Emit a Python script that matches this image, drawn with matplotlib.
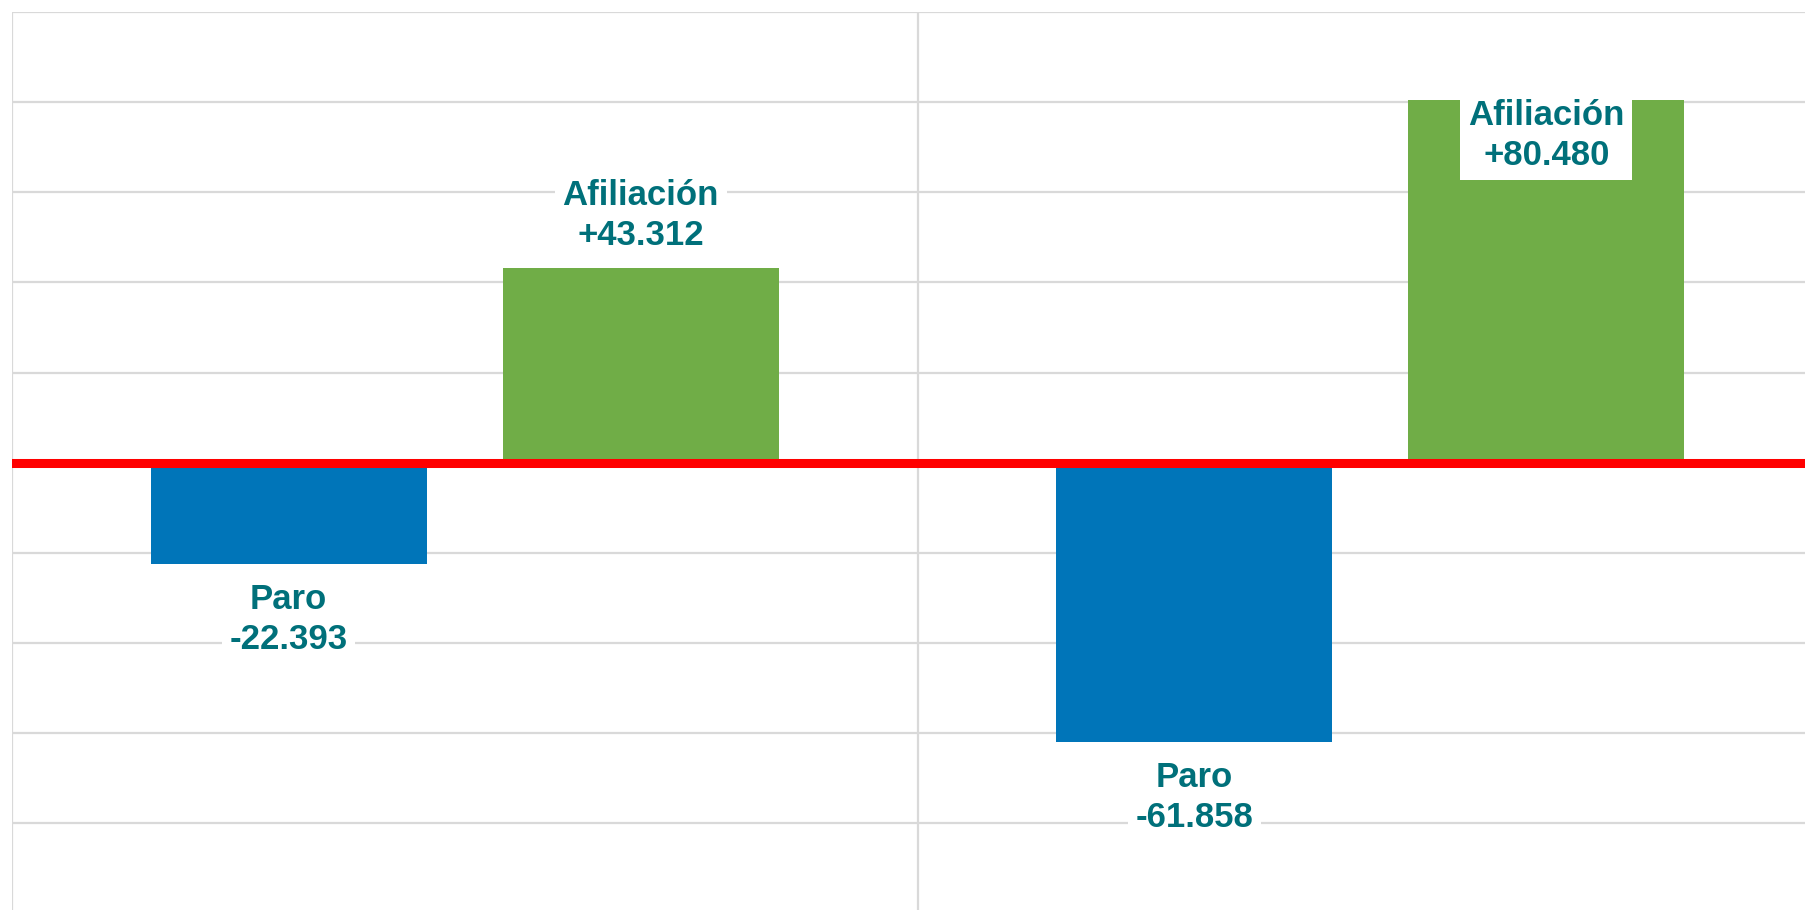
import matplotlib
matplotlib.use("Agg")
from matplotlib import pyplot as plt
import numpy as np

# two periods, two series (paro / afiliacion)
periodos = ["Periodo 1", "Periodo 2"]
series = ["Paro", "Afiliación"]
paro = [-22393, -61858]
afiliacion = [43312, 80480]

colores = {"Paro": "#0075b9", "Afiliación": "#70ad47"}
texto_color = "#00707a"

plt.rcParams["font.family"] = ["Liberation Sans", "DejaVu Sans"]

fig = plt.figure(figsize=(18.05, 9.10), dpi=100)
W, H = 1805.0, 910.0
# axes slightly larger than the figure: chart is cropped at bottom/right
ax = fig.add_axes([12 / W, 1 - 913.5 / H, 1811 / W, 901.5 / H])

x = np.arange(len(periodos))
ancho = 0.305
desp = 0.1944

def fmt(v):
    return "{:+,}".format(v).replace(",", ".")

ymax = 100000
estilo = dict(ha="center", fontsize=25, fontweight="bold", color=texto_color,
              linespacing=1.28, textcoords="offset points", zorder=4)
for nombre, valores, d in [("Paro", paro, -desp), ("Afiliación", afiliacion, desp)]:
    barras = ax.bar(x + d, valores, width=ancho, color=colores[nombre], zorder=2)
    for b, v in zip(barras, valores):
        cx = b.get_x() + b.get_width() / 2
        txt = nombre + "\n" + fmt(v)
        caja = dict(boxstyle="square,pad=0.22", fc="white", ec="none")
        if v > 0 and v > ymax * 0.7:
            # not enough room above: label goes inside the bar top
            ax.annotate(txt, (cx, v), xytext=(0, 1), va="top", bbox=caja, **estilo)
        elif v > 0:
            ax.annotate(txt, (cx, v), xytext=(0, 11), va="bottom", bbox=caja, **estilo)
        else:
            ax.annotate(txt, (cx, v), xytext=(0, -14), va="top", bbox=caja, **estilo)

ax.axhline(0, color="#ff0000", lw=6.5, zorder=3)

ax.set_xlim(-0.5, len(periodos) - 0.5)
ax.set_ylim(-ymax, ymax)
ax.set_yticks(np.arange(-ymax, ymax + 1, 20000))
ax.set_xticks(np.arange(-0.5, len(periodos), 1.0))
ax.grid(True, color="#d9d9d9", lw=1.6, zorder=0)
ax.set_axisbelow(True)
ax.tick_params(length=0, labelleft=False, labelbottom=False)
for s in ax.spines.values():
    s.set_visible(False)

fig.savefig("out.png", dpi=100)
